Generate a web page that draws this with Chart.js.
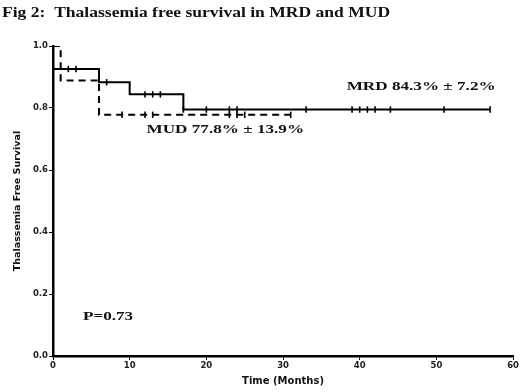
<!DOCTYPE html>
<html><head><meta charset="utf-8">
<script src="https://cdn.jsdelivr.net/npm/chart.js@4.4.0/dist/chart.umd.min.js"></script>
<style>html,body{margin:0;padding:0;background:#fff}#wrap{width:520px;height:392px}</style>
</head><body><div id="wrap"><canvas id="c" width="520" height="392"></canvas></div>
<script>
// Kaplan-Meier step points (time in months, survival)
const mrdTimes = [0, 0, 6, 10, 17, 57];
const mrdSurv  = [1.0, 0.926, 0.883, 0.844, 0.795, 0.795];
const mudTimes = [0, 1, 6, 31];
const mudSurv  = [1.0, 0.889, 0.778, 0.778];
// censored observations
const mrdCensorT = [2, 3, 7, 12, 13, 14, 17, 20, 23, 24, 33, 39, 40, 41, 42, 44, 51, 57];
const mrdCensorS = [0.926, 0.926, 0.883, 0.844, 0.844, 0.844, 0.795, 0.795, 0.795, 0.795, 0.795, 0.795, 0.795, 0.795, 0.795, 0.795, 0.795, 0.795];
const mudCensorT = [9, 12, 13, 23, 24, 25, 31];
const mudCensorS = [0.778, 0.778, 0.778, 0.778, 0.778, 0.778, 0.778];
const xTicks = [0, 10, 20, 30, 40, 50, 60];
const yTicks = [0.0, 0.2, 0.4, 0.6, 0.8, 1.0];
const titleText = "Fig 2:  Thalassemia free survival in MRD and MUD";
const notes = [
  {text: "MRD 84.3% \u00b1 7.2%", x: 38.3, y: 0.868},
  {text: "MUD 77.8% \u00b1 13.9%", x: 12.2, y: 0.729},
  {text: "P=0.73", x: 3.9, y: 0.126}
];

const zip = (a, b) => a.map((v, i) => ({x: v, y: b[i]}));

const textPlugin = {
  id: 'texts',
  afterDraw(chart) {
    const ctx = chart.ctx, xs = chart.scales.x, ys = chart.scales.y;
    ctx.save();
    ctx.fillStyle = '#111';
    ctx.textBaseline = 'middle';
    ctx.textAlign = 'left';
    // title
    ctx.font = 'bold 14.5px "Liberation Serif"';
    ctx.save(); ctx.translate(2, 13); ctx.scale(1.21, 1); ctx.fillText(titleText, 0, 0); ctx.restore();
    ctx.font = 'bold 13.5px "Liberation Serif"';
    notes.forEach(n => {
      ctx.save();
      ctx.translate(xs.getPixelForValue(n.x), ys.getPixelForValue(n.y));
      ctx.scale(1.27, 1);
      ctx.fillText(n.text, 0, 0);
      ctx.restore();
    });
    ctx.restore();
  }
};

new Chart(document.getElementById('c'), {
  type: 'scatter',
  data: {
    datasets: [
      {label: 'MRD', data: zip(mrdTimes, mrdSurv), showLine: true, stepped: 'before',
       borderColor: '#000', borderWidth: 2, pointRadius: 0, fill: false},
      {label: 'MUD', data: zip(mudTimes, mudSurv), showLine: true, stepped: 'before',
       borderColor: '#000', borderWidth: 2, borderDash: [7, 5], pointRadius: 0, fill: false},
      {label: 'MRD censored', data: zip(mrdCensorT, mrdCensorS), pointStyle: 'line', rotation: 90,
       pointRadius: 3.2, borderColor: '#000', borderWidth: 1.6, showLine: false},
      {label: 'MUD censored', data: zip(mudCensorT, mudCensorS), pointStyle: 'line', rotation: 90,
       pointRadius: 3.2, borderColor: '#000', borderWidth: 1.6, showLine: false}
    ]
  },
  options: {
    responsive: false, animation: false, devicePixelRatio: 1,
    layout: {padding: {top: 46, right: 6, left: 0, bottom: 0}},
    plugins: {legend: {display: false}, tooltip: {enabled: false}, title: {display: false}},
    scales: {
      x: {
        type: 'linear', min: 0, max: 60,
        afterBuildTicks: s => { s.ticks = xTicks.map(v => ({value: v})); },
        afterFit: s => { s.height = 36; },
        border: {display: true, color: '#000', width: 2.5},
        grid: {display: true, drawOnChartArea: false, drawTicks: true, tickLength: 4, color: '#000', lineWidth: 1},
        ticks: {color: '#222', font: {family: 'DejaVu Sans', size: 8.5, weight: 'bold'}, padding: 1, maxRotation: 0},
        title: {display: true, text: 'Time (Months)', color: '#111', font: {family: 'DejaVu Sans', size: 10, weight: 'bold'}, padding: {top: 0, bottom: 5}}
      },
      y: {
        type: 'linear', min: 0, max: 1,
        afterBuildTicks: s => { s.ticks = yTicks.map(v => ({value: v})); },
        afterFit: s => { s.width = 53; },
        border: {display: true, color: '#000', width: 2.5},
        grid: {display: true, drawOnChartArea: false, drawTicks: true, tickLength: 4, color: '#000', lineWidth: 1},
        ticks: {color: '#222', font: {family: 'DejaVu Sans', size: 8.5, weight: 'bold'}, padding: 1,
                callback: v => Number(v).toFixed(1)},
        title: {display: true, text: 'Thalassemia Free Survival', color: '#111', font: {family: 'DejaVu Sans', size: 9.5, weight: 'bold'}, padding: {top: 12, bottom: 0}}
      }
    }
  },
  plugins: [textPlugin]
});
</script></body></html>
